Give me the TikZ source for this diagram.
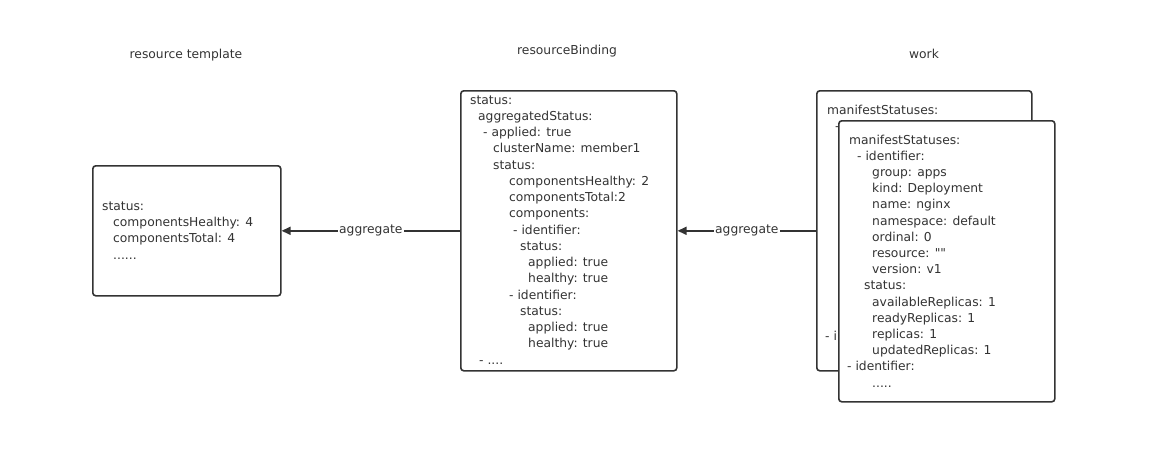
\documentclass[tikz,border=0pt]{standalone}
\usepackage{fontspec}
\newfontfamily\djv{DejaVu Sans}
\newcommand\myfont{\djv\fontsize{12.3pt}{16pt}\selectfont}
\newcommand\sixdots{......}
\newcommand\fourdots{....}
\newcommand\fivedots{.....}
\usetikzlibrary{arrows.meta}
\definecolor{boxc}{HTML}{333333}
\definecolor{txtc}{HTML}{333333}
\tikzset{
  box/.style={draw=boxc, line width=1.6pt, rounded corners=3pt, fill=white, anchor=north west, inner sep=0pt},
  ln/.style={anchor=west, inner sep=0pt, text height=9pt, text depth=3pt, font=\myfont, text=txtc},
  ttl/.style={inner sep=0pt, text height=9pt, text depth=3pt, font=\myfont, text=txtc},
  conn/.style={draw=boxc, line width=1.6pt, -{Triangle[length=9pt,width=8pt]}},
  lab/.style={fill=white, inner sep=1.5pt, font=\myfont, text=txtc}
}
\begin{document}
\begin{tikzpicture}[x=1pt,y=-1pt]
\useasboundingbox (0,0) rectangle (1160,456);
% titles
\node[ttl] (ttmpl) at (186,55) {resource template};
\node[ttl] (tbind) at (567,51) {resourceBinding};
\node[ttl] (twork) at (924,55) {work};
% resource template box
\node[box, minimum width=188pt, minimum height=130pt] (tmpl) at (92,165) {};
\foreach \i/\dx/\t in {0/0/status:, 1/11/componentsHealthy: 4, 2/11/componentsTotal: 4, 3/11/\sixdots}
  \node[ln] (l\i) at (102+\dx, 207+16.4*\i) {\t};
% resourceBinding box
\node[box, minimum width=216pt, minimum height=280pt] (bind) at (460,90) {};
\foreach \i/\dx/\t in {0/0/status:, 1/8/aggregatedStatus:, 2/13/- applied: true, 3/23/clusterName: member1,
  4/23/status:, 5/39/componentsHealthy: 2, 6/39/componentsTotal:2, 7/39/components:,
  8/43/- identifier:, 9/50/status:, 10/58/applied: true, 11/58/healthy: true,
  12/39/- identifier:, 13/50/status:, 14/58/applied: true, 15/58/healthy: true, 16/9/- \fourdots}
  \node[ln] (m\i) at (470+\dx, 101+16.25*\i) {\t};
% work box (back): only the parts left visible by the front box
\node[box, minimum width=215pt, minimum height=280pt] (wback) at (816,90) {};
\node[ln] (wb0) at (827, 111) {manifestStatuses:};
\node[ln] (wb1) at (835, 127.2) {-};
\node[ln] (wb14) at (825, 337.8) {- i};
% work box (front)
\node[box, minimum width=216pt, minimum height=281pt] (wfront) at (838,120) {};
\foreach \i/\dx/\t in {0/0/manifestStatuses:, 1/8/- identifier:, 2/23/group: apps, 3/23/kind: Deployment,
  4/23/name: nginx, 5/23/namespace: default, 6/23/ordinal: 0, 7/23/{resource: ""}, 8/23/version: v1,
  9/15/status:, 10/23/availableReplicas: 1, 11/23/readyReplicas: 1, 12/23/replicas: 1,
  13/23/updatedReplicas: 1, 14/-2/- identifier:, 15/23/\fivedots}
  \node[ln] (wf\i) at (849+\dx, 141+16.2*\i) {\t};
% connectors
\draw[conn] (bind.west) -- node[lab] (a1) {aggregate} (tmpl.east);
\draw[conn] (wback.west) -- node[lab] (a2) {aggregate} (bind.east);
\end{tikzpicture}
\end{document}
